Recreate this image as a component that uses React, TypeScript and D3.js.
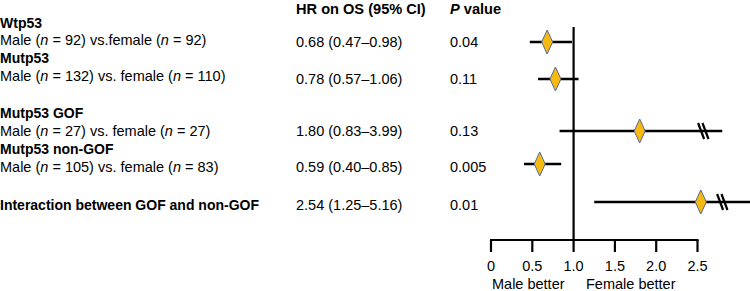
import React from "react";
import * as d3 from "d3";

const groups = ["Wtp53", "Mutp53", "Mutp53 GOF", "Mutp53 non-GOF", "Interaction between GOF and non-GOF"];
const maleN = [92, 132, 27, 105];
const femaleN = [92, 110, 27, 83];
const vsText = [" vs.female (", " vs. female (", " vs. female (", " vs. female ("];
const hr = [0.68, 0.78, 1.8, 0.59, 2.54];
const ciLow = [0.47, 0.57, 0.83, 0.4, 1.25];
const ciHigh = [0.98, 1.06, 3.99, 0.85, 5.16];
const pValues = ["0.04", "0.11", "0.13", "0.005", "0.01"];
// drawn (truncated) upper end of the CI line and location of the axis-break mark
const shownHigh = [0.98, 1.06, 2.8, 0.85, 3.2];
const breakAt: (number | null)[] = [null, null, 2.57, null, 2.8];
const ticks = [0, 0.5, 1.0, 1.5, 2.0, 2.5];
const tickLabels = ["0", "0.5", "1.0", "1.5", "2.0", "2.5"];

const FONT = "'Liberation Sans', Arial, Helvetica, sans-serif";

export default function App() {
  const W = 750, H = 291;
  const x = d3.scaleLinear().domain([0, 2.5]).range([491, 697.5]);
  const markY = [42, 79, 131, 164, 202];
  const textY = [42, 79, 131, 167, 205];
  const titleY = [23, 58, 113, 149, 205];
  const subY = [40, 76, 131, 167];
  const axisY = 240;
  const fmt = (v: number) => v.toFixed(2);
  const fs = 14.5;
  const fsb = 14;

  return (
    <svg width={W} height={H} style={{ position: "absolute", left: 0, top: 0, background: "#fff" }} fontFamily={FONT}>
      {/* headers */}
      <text x={296} y={9} fontSize={14.6} fontWeight="bold" dominantBaseline="central">HR on OS (95% CI)</text>
      <text x={450} y={9} fontSize={14.6} fontWeight="bold" dominantBaseline="central">
        <tspan fontStyle="italic">P</tspan> value
      </text>

      {/* left labels */}
      {groups.map((g, i) => (
        <text key={"g" + i} x={0} y={titleY[i]} fontSize={fsb} fontWeight="bold" dominantBaseline="central">{g}</text>
      ))}
      {maleN.map((m, i) => (
        <text key={"s" + i} x={0} y={subY[i]} fontSize={fs} dominantBaseline="central">
          Male (<tspan fontStyle="italic">n</tspan> = {m}){vsText[i]}<tspan fontStyle="italic">n</tspan> = {femaleN[i]})
        </text>
      ))}

      {/* HR and P columns */}
      {hr.map((h, i) => (
        <text key={"h" + i} x={296} y={textY[i]} fontSize={fs} dominantBaseline="central">
          {`${fmt(h)} (${fmt(ciLow[i])}–${fmt(ciHigh[i])})`}
        </text>
      ))}
      {pValues.map((p, i) => (
        <text key={"p" + i} x={450} y={textY[i]} fontSize={fs} dominantBaseline="central">{p}</text>
      ))}

      {/* reference line */}
      <line x1={x(1)} x2={x(1)} y1={27} y2={axisY} stroke="#000" strokeWidth={2.2} />

      {/* CI lines */}
      {hr.map((h, i) => (
        <line key={"ci" + i} x1={x(ciLow[i])} x2={x(Math.min(ciHigh[i], shownHigh[i]))} y1={markY[i]} y2={markY[i]} stroke="#000" strokeWidth={2.4} />
      ))}
      {/* break marks */}
      {breakAt.map((b, i) =>
        b == null ? null : (
          <g key={"b" + i}>
            {[-2.2, 2.2].map((o, k) => (
              <line key={k} x1={x(b) + o - 3} y1={markY[i] - 8} x2={x(b) + o + 3} y2={markY[i] + 8} stroke="#000" strokeWidth={2.2} />
            ))}
          </g>
        )
      )}
      {/* diamonds */}
      {hr.map((h, i) => {
        const cx = x(h), cy = markY[i];
        const d = `M${cx},${cy - 12}L${cx + 5.5},${cy}L${cx},${cy + 12}L${cx - 5.5},${cy}Z`;
        return <path key={"d" + i} d={d} fill="#F6BA12" stroke="#55688F" strokeWidth={1} />;
      })}

      {/* axis */}
      <line x1={x(0) - 1} x2={x(2.5) + 1} y1={axisY} y2={axisY} stroke="#000" strokeWidth={2.2} />
      {ticks.map((t, i) => (
        <g key={"t" + i}>
          <line x1={x(t)} x2={x(t)} y1={axisY} y2={axisY + 12} stroke="#000" strokeWidth={2.2} />
          <text x={x(t)} y={266} fontSize={fs} textAnchor="middle" dominantBaseline="central">{tickLabels[i]}</text>
        </g>
      ))}
      <text x={x(0) + 1} y={284} fontSize={fs} dominantBaseline="central">Male better</text>
      <text x={586} y={284} fontSize={fs} dominantBaseline="central">Female better</text>
    </svg>
  );
}
